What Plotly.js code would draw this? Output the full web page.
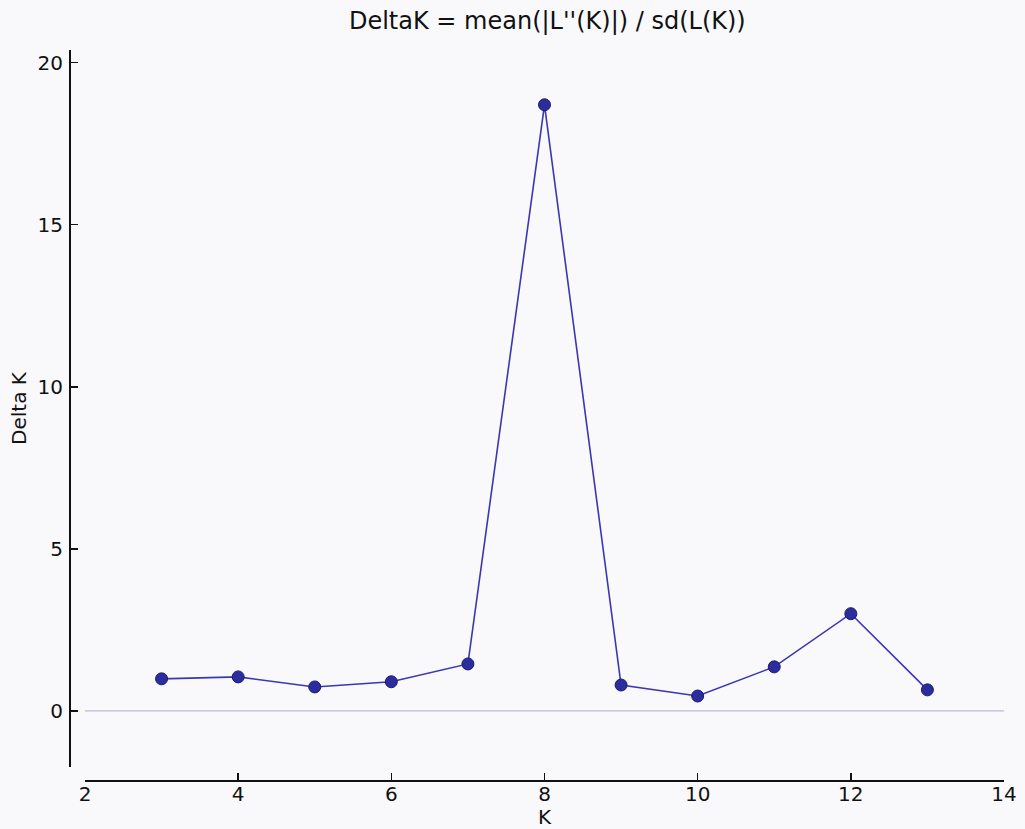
<!DOCTYPE html>
<html>
<head>
<meta charset="utf-8">
<script src="https://cdn.plot.ly/plotly-3.0.1.min.js"></script>
<style>html,body{margin:0;padding:0;background:#f9f9fc;}#chart{width:1025px;height:829px;}</style>
</head>
<body>
<div id="chart"></div>
<script>
const kValues = [3, 4, 5, 6, 7, 8, 9, 10, 11, 12, 13];
const deltaK = [0.99, 1.05, 0.74, 0.90, 1.45, 18.7, 0.80, 0.46, 1.36, 3.00, 0.65];
const xTicks = [2, 4, 6, 8, 10, 12, 14];
const yTicks = [0, 5, 10, 15, 20];

const font = {family: 'DejaVu Sans, sans-serif', color: '#111', size: 20};

const trace = {
  x: kValues, y: deltaK, type: 'scatter', mode: 'lines+markers',
  line: {color: '#3b36b2', width: 1.6},
  marker: {color: '#2b2d9e', size: 12, line: {color: '#1a1a6e', width: 1}},
  hoverinfo: 'skip', showlegend: false
};

const layout = {
  width: 1025, height: 829,
  paper_bgcolor: '#f9f9fc', plot_bgcolor: 'rgba(0,0,0,0)',
  margin: {l: 69, r: 21, t: 50, b: 49},
  font: font,
  title: {text: "DeltaK = mean(|L''(K)|) / sd(L(K))", font: {family: font.family, size: 24, color: '#111'}, x: 0.534, xanchor: 'center', y: 0.975, yanchor: 'middle'},
  xaxis: {
    domain: [0.0171, 1], anchor: 'free', position: 0,
    range: [2, 14], tickvals: xTicks, ticktext: xTicks.map(String),
    ticks: 'inside', ticklen: 7, tickwidth: 1.5, tickcolor: '#111',
    showline: true, linecolor: '#111', linewidth: 1.8,
    showgrid: false, zeroline: false, tickfont: font, ticklabelstandoff: -5,
    title: {text: 'K', font: font, standoff: 2}
  },
  yaxis: {
    domain: [0.0178, 1], anchor: 'free', position: 0,
    range: [-1.73, 20.39], tickvals: yTicks, ticktext: yTicks.map(String),
    ticks: 'inside', ticklen: 7, tickwidth: 1.5, tickcolor: '#111',
    showline: true, linecolor: '#111', linewidth: 1.8,
    showgrid: false, zeroline: false, tickfont: font, ticklabelstandoff: 2,
    title: {text: 'Delta K', font: font, standoff: 4}
  },
  shapes: [{type: 'line', xref: 'x', yref: 'y', x0: 2, x1: 14, y0: 0, y1: 0,
    line: {color: '#bcb8dc', width: 1.3}}]
};

Plotly.newPlot('chart', [trace], layout, {displayModeBar: false, staticPlot: true});
</script>
</body>
</html>
